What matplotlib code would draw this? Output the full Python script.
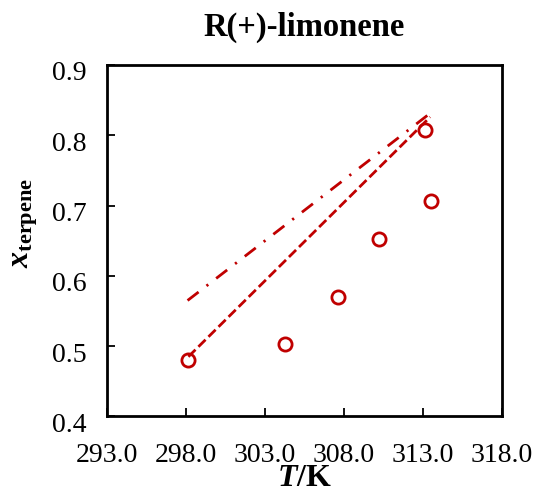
import matplotlib
matplotlib.use('Agg')
import matplotlib.pyplot as plt
from matplotlib.transforms import ScaledTranslation

plt.rcParams['font.family'] = ['Liberation Serif', 'DejaVu Serif']
plt.rcParams['mathtext.fontset'] = 'custom'
plt.rcParams['mathtext.rm'] = 'Liberation Serif'
plt.rcParams['mathtext.it'] = 'Liberation Serif:italic'
plt.rcParams['mathtext.bf'] = 'Liberation Serif:bold'
plt.rcParams['mathtext.bfit'] = 'Liberation Serif:bold:italic'

# experimental solubility points
T_exp = [298.15, 304.25, 307.65, 310.2, 313.15, 313.5]
x_exp = [0.481, 0.503, 0.570, 0.652, 0.807, 0.706]

# model curves
T_model = [298.15, 313.45]
x_dashed = [0.485, 0.826]
T_model2 = [298.1, 313.55]
x_dashdot = [0.565, 0.833]

xticks = [293.0, 298.0, 303.0, 308.0, 313.0, 318.0]
yticks = [0.4, 0.5, 0.6, 0.7, 0.8, 0.9]

red = '#C00000'

fig = plt.figure(figsize=(5.36, 4.93), dpi=100)
ax = fig.add_axes([0.1996, 0.1552, 0.737, 0.713])

ax.plot(T_model, x_dashed, color=red, lw=2.0, dashes=(3.6, 1.5))
ax.plot(T_model2, x_dashdot, color=red, lw=2.0, dashes=(5.0, 3.6, 0.8, 3.6))
ax.plot(T_exp, x_exp, 'o', mfc='none', mec=red, mew=2.0, ms=9.5)

ax.set_xlim(293, 318)
ax.set_ylim(0.4, 0.9)
ax.set_xticks(xticks)
ax.set_xticklabels([f'{t:.1f}' for t in xticks])
ax.set_yticks(yticks)
ax.set_yticklabels([f'{v:.1f}' for v in yticks])
ax.tick_params(direction='in', length=6, width=1.3, labelsize=20, color='black')
ax.tick_params(axis='x', pad=19)
ax.tick_params(axis='y', pad=15)
for sp in ax.spines.values():
    sp.set_linewidth(2)

# excel-style: y labels sit a bit low
off = ScaledTranslation(0, -6 / 100, fig.dpi_scale_trans)
for lab in ax.get_yticklabels():
    lab.set_transform(lab.get_transform() + off)

ax.set_title('R(+)-limonene', fontsize=23.5, fontweight='bold', pad=21)
ax.set_xlabel(r'$\boldsymbol{T}$/K', fontsize=23, fontweight='bold', labelpad=-3)
ax.set_ylabel(r'$\mathbfit{x}_{\mathbf{terpene}}$', fontsize=23, labelpad=8)
ax.yaxis.label.set_y(0.55)

fig.savefig('out.png', dpi=100)
